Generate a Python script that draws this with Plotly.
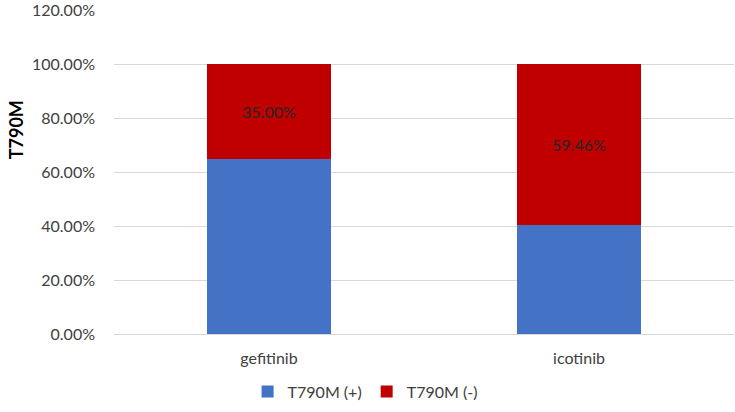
import plotly.graph_objects as go

drugs = ["gefitinib", "icotinib"]
pos = [0.65, 0.4054]
neg = [0.35, 0.5946]
neg_labels = ["35.00%", "59.46%"]
y_ticks = [0, 0.2, 0.4, 0.6, 0.8, 1.0, 1.2]
y_tick_text = ["0.00%", "20.00%", "40.00%", "60.00%", "80.00%", "100.00%", "120.00%"]

fig = go.Figure()
fig.add_trace(go.Bar(x=drugs, y=pos, name="T790M (+)", marker_color="#4472C4",
                     marker_line_width=0))
fig.add_trace(go.Bar(x=drugs, y=neg, name="T790M (-)", marker_color="#C00000",
                     marker_line_width=0, text=neg_labels, textposition="inside",
                     insidetextanchor="middle", textfont=dict(color="#262626", size=16)))

fig.update_layout(
    barmode="stack", bargap=0.6,
    width=735, height=412,
    margin=dict(l=114, r=1, t=10, b=78, autoexpand=False),
    plot_bgcolor="white", paper_bgcolor="white",
    font=dict(family="Lato, Carlito, sans-serif", size=16, color="#404040"),
    showlegend=True,
    legend=dict(orientation="h", x=0.405, xanchor="center", y=-0.125, yanchor="top",
                font=dict(size=16, color="#404040"), itemwidth=30, traceorder="normal"),
)
fig.update_yaxes(range=[0, 1.202], tickmode="array", tickvals=y_ticks, ticktext=y_tick_text,
                 gridcolor="#D9D9D9", zeroline=False, showline=False, ticks="",
                 ticklabelstandoff=18, automargin=False)
fig.update_xaxes(showline=True, linecolor="#D9D9D9", ticks="", ticklabelstandoff=10,
                 automargin=False)
fig.add_annotation(text="<b>T790M</b>", xref="paper", yref="paper", x=-0.18, y=0.63,
                   xanchor="left", yanchor="middle",
                   textangle=-90, showarrow=False, font=dict(size=18, color="black"))

fig.write_html("out.html", config={"displayModeBar": False},
               post_script="document.body.style.margin='0';")
